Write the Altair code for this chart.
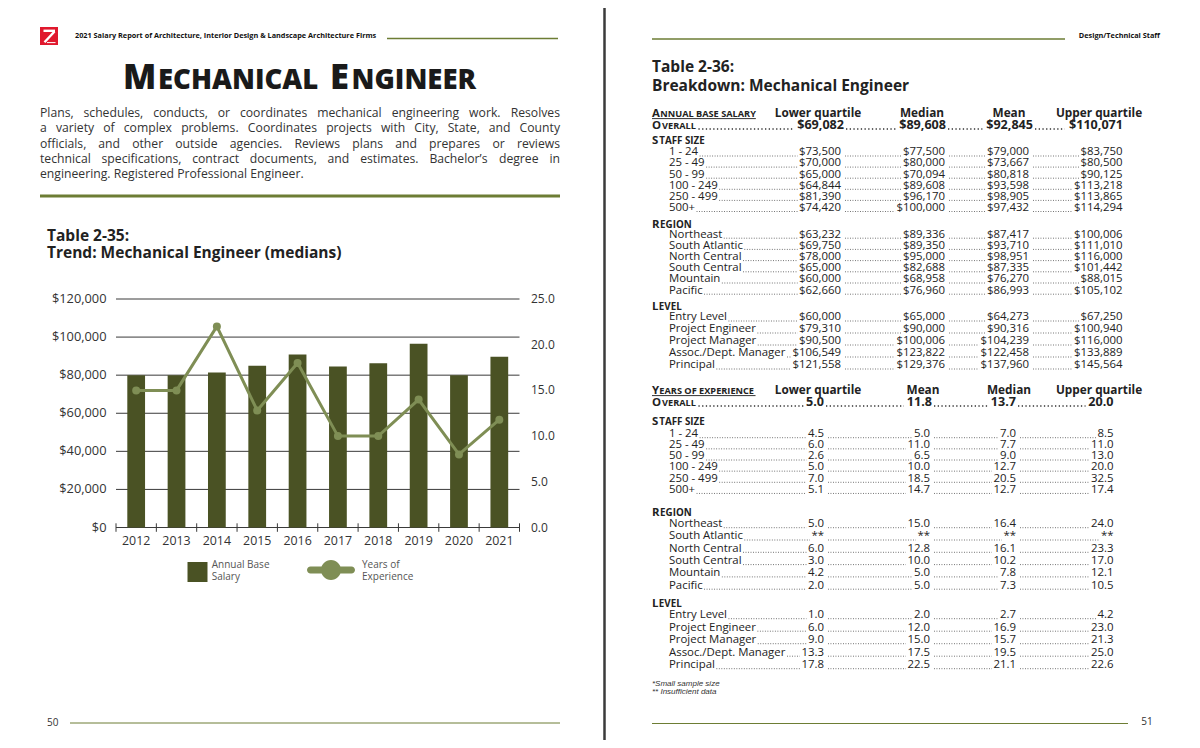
import altair as alt
import pandas as pd

# ---------------------------------------------------------------- chart data
YEARS = [str(y) for y in range(2012, 2022)]
SALARY_MEDIAN = [80000, 80000, 81400, 85000, 90900, 84600, 86200, 96500, 80000, 89608]
YEARS_EXPERIENCE = [15.0, 15.0, 22.0, 12.8, 18.0, 10.0, 10.0, 14.0, 8.0, 11.8]
SALARY_TICKS = [0, 20000, 40000, 60000, 80000, 100000, 120000]
EXPERIENCE_TICKS = [0, 5, 10, 15, 20, 25]
SERIES = ["Annual Base Salary", "Years of Experience"]

# ---------------------------------------------------------------- table data
SAL_COLS = ["Lower quartile", "Median", "Mean", "Upper quartile"]
SAL_OVERALL = ["$69,082", "$89,608", "$92,845", "$110,071"]
STAFF_LABELS = ["1 - 24", "25 - 49", "50 - 99", "100 - 249", "250 - 499", "500+"]
SAL_STAFF = [
    ["$73,500", "$77,500", "$79,000", "$83,750"],
    ["$70,000", "$80,000", "$73,667", "$80,500"],
    ["$65,000", "$70,094", "$80,818", "$90,125"],
    ["$64,844", "$89,608", "$93,598", "$113,218"],
    ["$81,390", "$96,170", "$98,905", "$113,865"],
    ["$74,420", "$100,000", "$97,432", "$114,294"],
]
REGION_LABELS = ["Northeast", "South Atlantic", "North Central", "South Central", "Mountain", "Pacific"]
SAL_REGION = [
    ["$63,232", "$89,336", "$87,417", "$100,006"],
    ["$69,750", "$89,350", "$93,710", "$111,010"],
    ["$78,000", "$95,000", "$98,951", "$116,000"],
    ["$65,000", "$82,688", "$87,335", "$101,442"],
    ["$60,000", "$68,958", "$76,270", "$88,015"],
    ["$62,660", "$76,960", "$86,993", "$105,102"],
]
LEVEL_LABELS = ["Entry Level", "Project Engineer", "Project Manager", "Assoc./Dept. Manager", "Principal"]
SAL_LEVEL = [
    ["$60,000", "$65,000", "$64,273", "$67,250"],
    ["$79,310", "$90,000", "$90,316", "$100,940"],
    ["$90,500", "$100,006", "$104,239", "$116,000"],
    ["$106,549", "$123,822", "$122,458", "$133,889"],
    ["$121,558", "$129,376", "$137,960", "$145,564"],
]
EXP_COLS = ["Lower quartile", "Mean", "Median", "Upper quartile"]
EXP_OVERALL = ["5.0", "11.8", "13.7", "20.0"]
EXP_STAFF = [
    ["4.5", "5.0", "7.0", "8.5"],
    ["6.0", "11.0", "7.7", "11.0"],
    ["2.6", "6.5", "9.0", "13.0"],
    ["5.0", "10.0", "12.7", "20.0"],
    ["7.0", "18.5", "20.5", "32.5"],
    ["5.1", "14.7", "12.7", "17.4"],
]
EXP_REGION = [
    ["5.0", "15.0", "16.4", "24.0"],
    ["**", "**", "**", "**"],
    ["6.0", "12.8", "16.1", "23.3"],
    ["3.0", "10.0", "10.2", "17.0"],
    ["4.2", "5.0", "7.8", "12.1"],
    ["2.0", "5.0", "7.3", "10.5"],
]
EXP_LEVEL = [
    ["1.0", "2.0", "2.7", "4.2"],
    ["6.0", "12.0", "16.9", "23.0"],
    ["9.0", "15.0", "15.7", "21.3"],
    ["13.3", "17.5", "19.5", "25.0"],
    ["17.8", "22.5", "21.1", "22.6"],
]

PARAGRAPH = [
    "Plans, schedules, conducts, or coordinates mechanical engineering work. Resolves",
    "a variety of complex problems. Coordinates projects with City, State, and County",
    "officials, and other outside agencies. Reviews plans and prepares or reviews",
    "technical specifications, contract documents, and estimates. Bachelor\u2019s degree in",
    "engineering. Registered Professional Engineer.",
]

# ---------------------------------------------------------------- styles
FONT = "Open Sans"
INK = "#222222"
BODY = "#333333"
OLIVE = "#6d7d34"
BAR = "#4a5224"
LINE = "#7f8e55"
GRID = "#3a3a3a"
LEADER = "#555555"
W, H = 1184, 732
ROW = 11.4  # table text size

_EM = {' ': .26, '$': .572, ',': .245, '.': .266, '-': .322, '+': .572, '/': .367, '*': .552,
       ':': .266, '(': .296, ')': .296, '&': .71, '\u2019': .22,
       'A': .633, 'B': .648, 'C': .631, 'D': .729, 'E': .556, 'F': .516, 'G': .728, 'H': .738,
       'I': .279, 'J': .267, 'K': .614, 'L': .519, 'M': .903, 'N': .754, 'O': .779, 'P': .602,
       'Q': .779, 'R': .618, 'S': .549, 'T': .553, 'U': .728, 'V': .58, 'W': .898, 'X': .584,
       'Y': .559, 'Z': .562,
       'a': .556, 'b': .613, 'c': .476, 'd': .613, 'e': .561, 'f': .336, 'g': .546, 'h': .614,
       'i': .252, 'j': .252, 'k': .529, 'l': .252, 'm': .93, 'n': .614, 'o': .601, 'p': .613,
       'q': .613, 'r': .408, 's': .477, 't': .353, 'u': .614, 'v': .501, 'w': .778, 'x': .524,
       'y': .501, 'z': .468}


def tw(s, size, bold=False):
    w = 0.0
    for ch in s:
        w += .572 if ch.isdigit() else _EM.get(ch, .56)
    return w * size * (1.06 if bold else 1.0)


texts, rules, rects = [], [], []


def T(x, y, s, size, weight="normal", color=INK, align="left", baseline="middle",
      font=FONT, style="normal"):
    texts.append(dict(x=x - 8, y=y - 8, t=s, size=size, weight=weight, color=color,
                      align=align, baseline=baseline, font=font, style=style))


def R(x1, y1, x2, y2, color, width, dash=None):
    rules.append(dict(x1=x1 - 8, y1=y1 - 8, x2=x2 - 8, y2=y2 - 8, color=color,
                      width=width, dash=tuple(dash) if dash else None))


def BOX(x1, y1, x2, y2, color):
    rects.append(dict(x1=x1 - 8, y1=y1 - 8, x2=x2 - 8, y2=y2 - 8, color=color))


def smallcaps(x, y, word, big, small, color=INK):
    base = y + 0.36 * big
    first, rest = word[0], word[1:].upper()
    T(x, base, first, big, "bold", color, baseline="alphabetic")
    x2 = x + tw(first, big, True) + 0.6
    T(x2, base, rest, small, "bold", color, baseline="alphabetic")
    return x2 + tw(rest, small, True)


def leader(x1, x2, y, bold=False):
    if x2 - x1 > 3:
        if bold:
            R(x1, y, x2, y, "#333333", 1.5, [1.3, 2.4])
        else:
            R(x1, y, x2, y, LEADER, 0.9, [0.9, 1.6])


def table_rows(ys, labels, values, rights, size=ROW):
    for y, lab, vals in zip(ys, labels, values):
        T(669, y, lab, size, color=INK)
        prev = 669 + tw(lab, size) + 1
        for i, (v, r) in enumerate(zip(vals, rights)):
            T(r, y, v, size, color=INK, align="right")
            leader(prev + (0.5 if i == 0 else 4), r - tw(v, size) - 1.5, y + 3.7)
            prev = r


def overall_row(y, values, rights, size=12.6):
    end = smallcaps(652, y, "Overall", 11.4, 9.2)
    prev = end + 3
    for i, (v, r) in enumerate(zip(values, rights)):
        T(r, y, v, size, "bold", INK, align="right")
        leader(prev, r - tw(v, size, True) - 1.5, y + 4.0, bold=True)
        prev = r + 2


# ================================================================ LEFT PAGE
BOX(40, 27, 58, 45, "#e0182d")
R(43.5, 30.8, 55, 30.8, "white", 2.4)
R(54.5, 31.5, 44.5, 42.3, "white", 2.4)
R(47, 42.6, 55.5, 42.6, "white", 1)
T(75, 36, "2021 Salary Report of Architecture, Interior Design & Landscape Architecture Firms",
  7.3, "bold", "#111111")
R(387, 38.5, 558, 38.5, OLIVE, 1.3)

# title in small caps (two words, each: large initial + small capitals)
CAP, SMALL = 34.5, 27.5
for x_word, word in [(123, "MECHANICAL"), (330, "ENGINEER")]:
    T(x_word, 89, word[0], CAP, 800, "#1a1a1a", baseline="alphabetic")
    T(x_word + tw(word[0], CAP, True) * 1.06, 89, word[1:], SMALL, 800, "#1a1a1a",
      baseline="alphabetic")

# justified paragraph
PARA_Y = [113, 128.3, 143.6, 158.9, 174.2]
PSIZE = 12.2
for k, (line, y) in enumerate(zip(PARAGRAPH, PARA_Y)):
    words = line.split(" ")
    if k < len(PARAGRAPH) - 1:
        widths = [tw(w_, PSIZE) for w_ in words]
        gap = (520 - sum(widths)) / (len(words) - 1)
        xx = 40
        for j, (w_, wd) in enumerate(zip(words, widths)):
            if j == len(words) - 1:
                T(560, y, w_, PSIZE, color=BODY, align="right")
            else:
                T(xx, y, w_, PSIZE, color=BODY)
            xx += wd + gap
    else:
        T(40, y, line, PSIZE, color=BODY)

BOX(40, 194.5, 560, 197.5, OLIVE)
T(47, 236, "Table 2-35:", 15.5, "bold", INK)
T(47, 253, "Trend: Mechanical Engineer (medians)", 15.5, "bold", INK)
T(47, 723, "50", 10, color=BODY)
R(70, 723, 560, 723, OLIVE, 1)

# divider between pages
R(604.5, 0, 604.5, 748, "#3b3b3b", 2.5)

# ================================================================ RIGHT PAGE
R(652, 39, 1065, 39, OLIVE, 1.3)
T(1160, 36, "Design/Technical Staff", 7.3, "bold", "#111111", align="right")
T(652, 67, "Table 2-36:", 15.5, "bold", INK)
T(652, 85.5, "Breakdown: Mechanical Engineer", 15.5, "bold", INK)

# --- salary table
hdr_end = smallcaps(652, 112.8, "Annual base salary", 11.4, 9.2)
R(652, 118.6, hdr_end, 118.6, "#333333", 1)
for c, name in zip([818, 922, 1009, 1099], SAL_COLS):
    T(c, 112.6, name, 11.8, "bold", INK, align="center")
overall_row(125.0, SAL_OVERALL, [844, 946, 1033, 1123])
SAL_RIGHT = [841, 945, 1029, 1122.5]
smallcaps(652, 140.3, "Staff size", 11.4, 9.8)
table_rows([152.3 + 11.1 * i for i in range(6)], STAFF_LABELS, SAL_STAFF, SAL_RIGHT)
smallcaps(652, 223.8, "Region", 11.4, 9.8)
table_rows([234.5 + 11.2 * i for i in range(6)], REGION_LABELS, SAL_REGION, SAL_RIGHT)
smallcaps(652, 306.3, "Level", 11.4, 9.8)
table_rows([317.3 + 12.0 * i for i in range(5)], LEVEL_LABELS, SAL_LEVEL, SAL_RIGHT)

# --- years table
hdr_end = smallcaps(652, 389.8, "Years of experience", 11.4, 9.2)
R(652, 395.6, hdr_end, 395.6, "#333333", 1)
for c, name in zip([818, 923, 1009, 1099], EXP_COLS):
    T(c, 389.6, name, 11.8, "bold", INK, align="center")
overall_row(402.0, EXP_OVERALL, [824, 932, 1016, 1113.5])
EXP_RIGHT = [824, 930, 1016, 1113.5]
smallcaps(652, 420.7, "Staff size", 11.4, 9.8)
table_rows([434 + 11.15 * i for i in range(6)], STAFF_LABELS, EXP_STAFF, EXP_RIGHT)
smallcaps(652, 511.7, "Region", 11.4, 9.8)
table_rows([524 + 12.3 * i for i in range(6)], REGION_LABELS, EXP_REGION, EXP_RIGHT)
smallcaps(652, 603.3, "Level", 11.4, 9.8)
table_rows([615 + 12.5 * i for i in range(5)], LEVEL_LABELS, EXP_LEVEL, EXP_RIGHT)

T(652, 683.5, "*Small sample size", 8, color=BODY, font="Liberation Sans", style="italic")
T(652, 692, "** Insufficient data", 8, color=BODY, font="Liberation Sans", style="italic")
R(652, 723.5, 1128, 723.5, OLIVE, 1)
T(1147, 722, "51", 10, color=BODY, align="center")

# ================================================================ BAR / LINE CHART
X0, X1 = 116, 519.5           # page coordinates of the plot frame
Y_ZERO, Y_TOP = 527.5, 299

chart_df = pd.DataFrame({"year": YEARS, "salary": SALARY_MEDIAN,
                         "experience": YEARS_EXPERIENCE,
                         "s1": SERIES[0], "s2": SERIES[1]})
sal_ticks_df = pd.DataFrame({"salary": SALARY_TICKS})
exp_ticks_df = pd.DataFrame({"experience": EXPERIENCE_TICKS})
year_df = pd.DataFrame({"year": YEARS})
last_year_df = pd.DataFrame({"year": YEARS[-1:]})

x_scale = alt.Scale(domain=YEARS, range=[X0 - 8, X1 - 8], paddingInner=0, paddingOuter=0)
sal_scale = alt.Scale(domain=[0, 120000], range=[Y_ZERO - 8, Y_TOP - 8], nice=False)
exp_scale = alt.Scale(domain=[0, 25], range=[Y_ZERO - 8, Y_TOP - 8], nice=False)

# square legend symbol drawn 7px below the first label line
SQUARE_SYMBOL = "M-1,-0.3L1,-0.3L1,1.7L-1,1.7Z"
LINE_SYMBOL = ("M-0.854,0.062L0.854,0.062A0.146,0.146,0,0,1,0.854,0.354"
               "L-0.854,0.354A0.146,0.146,0,0,1,-0.854,0.062Z"
               "M-0.417,0.208A0.417,0.417,0,1,1,0.417,0.208A0.417,0.417,0,1,1,-0.417,0.208Z")

gridlines = alt.Chart(sal_ticks_df).mark_rule(color=GRID, strokeWidth=1).encode(
    y=alt.Y("salary:Q", scale=sal_scale, axis=None),
    x=alt.value(X0 - 8), x2=alt.value(X1 - 8))
sal_labels = alt.Chart(sal_ticks_df).mark_text(
    align="right", baseline="middle", font=FONT, fontSize=12.8, color=BODY).encode(
    y=alt.Y("salary:Q", axis=None), x=alt.value(X0 - 8 - 9.5),
    text=alt.Text("salary:Q", format="$,.0f"))
bars = alt.Chart(chart_df).mark_bar(width=alt.RelativeBandSize(0.44)).encode(
    x=alt.X("year:O", scale=x_scale, axis=None),
    y=alt.Y("salary:Q", axis=None),
    fill=alt.Fill("s1:N", scale=alt.Scale(domain=[SERIES[0]], range=[BAR]),
                  legend=alt.Legend(orient="none", legendX=179.5, legendY=547, title=None,
                                    symbolType=SQUARE_SYMBOL, symbolSize=400,
                                    symbolStrokeWidth=0, symbolOpacity=1, padding=0,
                                    labelFont=FONT, labelFontSize=10, labelColor="#555555",
                                    labelOffset=4.2,
                                    labelExpr="['Annual Base', 'Salary']")))
x_ticks = alt.Chart(year_df).mark_rule(color=GRID, strokeWidth=1).encode(
    x=alt.X("year:O", bandPosition=0, axis=None),
    y=alt.value(523.3 - 8), y2=alt.value(531.8 - 8))
x_tick_end = alt.Chart(last_year_df).mark_rule(color=GRID, strokeWidth=1).encode(
    x=alt.X("year:O", bandPosition=1, axis=None),
    y=alt.value(523.3 - 8), y2=alt.value(531.8 - 8))
x_labels = alt.Chart(year_df).mark_text(
    align="center", baseline="middle", font=FONT, fontSize=12.4, color=BODY).encode(
    x=alt.X("year:O", axis=None), y=alt.value(540.5 - 8), text=alt.Text("year:N"))

line = alt.Chart(chart_df).mark_line(color=LINE, strokeWidth=3).encode(
    x=alt.X("year:O", axis=None),
    y=alt.Y("experience:Q", scale=exp_scale, axis=None))
points = alt.Chart(chart_df).mark_circle(size=64, opacity=1).encode(
    x=alt.X("year:O", axis=None),
    y=alt.Y("experience:Q", axis=None),
    color=alt.Color("s2:N", scale=alt.Scale(domain=[SERIES[1]], range=[LINE]),
                    legend=alt.Legend(orient="none", legendX=299, legendY=533, title=None,
                                      symbolType=LINE_SYMBOL, symbolSize=2304,
                                      symbolStrokeWidth=0, symbolOpacity=1, padding=0,
                                      labelFont=FONT, labelFontSize=10,
                                      labelColor="#555555", labelOffset=7,
                                      labelExpr="['Years of', 'Experience']")))
exp_labels = alt.Chart(exp_ticks_df).mark_text(
    align="left", baseline="middle", font=FONT, fontSize=12, color=BODY).encode(
    y=alt.Y("experience:Q", axis=None), x=alt.value(X1 - 8 + 11.5),
    text=alt.Text("experience:Q", format=".1f"))

salary_layer = alt.layer(gridlines, bars, sal_labels, x_ticks, x_tick_end, x_labels)
years_layer = alt.layer(line, points, exp_labels)

# ---------------------------------------------------------------- page layers
PX = dict(scale=None, axis=None)
layers = []
for color in dict.fromkeys(r["color"] for r in rects):
    df = pd.DataFrame([r for r in rects if r["color"] == color])
    layers.append(alt.Chart(df).mark_rect(color=color).encode(
        x=alt.X("x1:Q", **PX), x2="x2:Q", y=alt.Y("y1:Q", **PX), y2="y2:Q"))

rule_keys = list(dict.fromkeys((r["color"], r["width"], r["dash"]) for r in rules))
for color, width, dash in rule_keys:
    df = pd.DataFrame([{k: v for k, v in r.items() if k != "dash"} for r in rules
                       if (r["color"], r["width"], r["dash"]) == (color, width, dash)])
    kw = dict(color=color, strokeWidth=width)
    if dash:
        kw["strokeDash"] = list(dash)
    layers.append(alt.Chart(df).mark_rule(**kw).encode(
        x=alt.X("x1:Q", **PX), x2="x2:Q", y=alt.Y("y1:Q", **PX), y2="y2:Q"))

layers += [salary_layer, years_layer]

tkeys = list(dict.fromkeys((t["size"], t["weight"], t["color"], t["align"], t["baseline"],
                            t["font"], t["style"]) for t in texts))
for size, weight, color, align, baseline, font, style in tkeys:
    df = pd.DataFrame([dict(x=t["x"], y=t["y"], t=t["t"]) for t in texts
                       if (t["size"], t["weight"], t["color"], t["align"], t["baseline"],
                           t["font"], t["style"]) == (size, weight, color, align, baseline,
                                                      font, style)])
    layers.append(alt.Chart(df).mark_text(
        fontSize=size, fontWeight=weight, color=color, align=align, baseline=baseline,
        font=font, fontStyle=style).encode(
        x=alt.X("x:Q", **PX), y=alt.Y("y:Q", **PX), text=alt.Text("t:N")))

chart = alt.layer(*layers).resolve_scale(y="independent").properties(
    width=W, height=H, padding=0, background="white",
    autosize=alt.AutoSizeParams(type="none"),
).configure_view(stroke=None)

chart.save("out.html", embed_options={"renderer": "svg", "actions": False})
